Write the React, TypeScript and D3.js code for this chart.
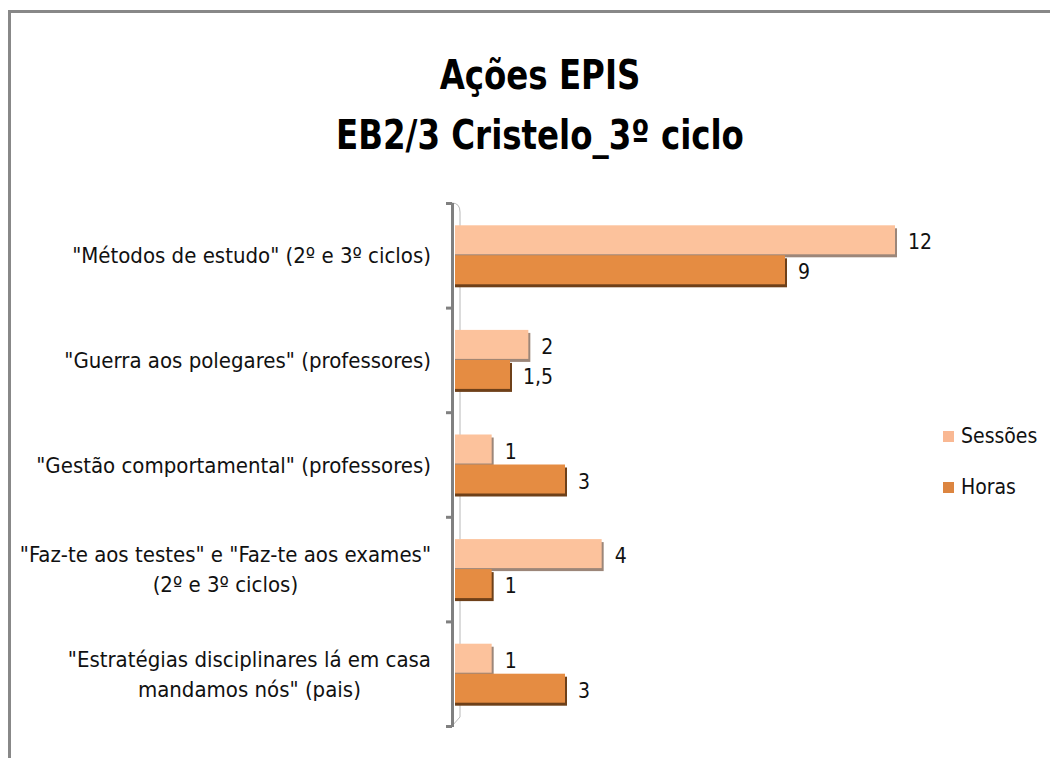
import { useEffect, useRef } from "react";
import * as d3 from "d3";

const categories: string[][] = [
  ['"Métodos de estudo" (2º e 3º ciclos)'],
  ['"Guerra aos polegares" (professores)'],
  ['"Gestão comportamental" (professores)'],
  ['"Faz-te aos testes" e "Faz-te aos exames"', "(2º e 3º ciclos)"],
  ['"Estratégias disciplinares lá em casa', 'mandamos nós" (pais)'],
];
const sessoes = [12, 2, 1, 4, 1];
const horas = [9, 1.5, 3, 1, 3];
const seriesNames = ["Sessões", "Horas"];
const titleLines = ["Ações EPIS", "EB2/3 Cristelo_3º ciclo"];

const FONT = '"Liberation Sans Narrow", "DejaVu Sans Condensed", "Open Sans", sans-serif';

const App = () => {
  const chartRef = useRef<SVGSVGElement | null>(null);

  useEffect(() => {
    if (!chartRef.current) return;
    document.body.style.margin = "0";
    const svg = d3.select(chartRef.current);
    svg.selectAll("*").remove();

    const width = 1050,
      height = 758;
    const plot = { left: 455, top: 203, bottom: 726 };

    svg.attr("width", width).attr("height", height).style("display", "block");
    svg.append("rect").attr("width", width).attr("height", height).attr("fill", "#fff");

    // outer chart border (runs off the right / bottom)
    svg
      .append("path")
      .attr("d", `M9.5,${height + 5} L9.5,11.5 L${width + 5},11.5`)
      .attr("fill", "none")
      .attr("stroke", "#888")
      .attr("stroke-width", 3);

    // title (squeezed a bit to look like the narrow original font)
    svg
      .append("g")
      .selectAll("text")
      .data(titleLines)
      .enter()
      .append("text")
      .attr("transform", (_, i) => `translate(540,${89 + i * 60}) scale(0.88,1)`)
      .attr("text-anchor", "middle")
      .attr("font-family", FONT)
      .attr("font-weight", "bold")
      .attr("font-size", 41)
      .attr("fill", "#000")
      .text((d) => d);

    const y = d3
      .scaleBand<number>()
      .domain(d3.range(categories.length))
      .range([plot.top, plot.bottom]);
    const x = d3.scaleLinear().domain([0, 12]).range([plot.left, 895]);
    const inner = d3
      .scaleBand<number>()
      .domain([0, 1])
      .range([0, 60])
      .paddingInner(0);

    // 3D wall / axis
    const axis = svg.append("g");
    axis
      .append("path")
      .attr("d", `M452,${plot.top} Q460,${plot.top} 460,${plot.top + 9} L460,${plot.bottom - 9} L452,${plot.bottom}`)
      .attr("fill", "none")
      .attr("stroke", "#b8b8b8")
      .attr("stroke-width", 1);
    axis
      .append("line")
      .attr("x1", 452.5)
      .attr("x2", 452.5)
      .attr("y1", plot.top)
      .attr("y2", plot.bottom + 1)
      .attr("stroke", "#808080")
      .attr("stroke-width", 3);
    const ticks = d3.range(categories.length + 1).map((i) =>
      i === categories.length ? plot.bottom : y(i)!
    );
    axis
      .selectAll("line.tick")
      .data(ticks)
      .enter()
      .append("line")
      .attr("class", "tick")
      .attr("x1", 446)
      .attr("x2", 452)
      .attr("y1", (d) => d + 0.5)
      .attr("y2", (d) => d + 0.5)
      .attr("stroke", "#808080")
      .attr("stroke-width", 3);

    const colors = ["#FCC29C", "#E58C42"];
    const shadows = ["#9c8679", "#6e4019"];
    const legendColors = ["#F9B893", "#DC8540"];
    const barH = 30;

    [sessoes, horas].forEach((values, s) => {
      const g = svg.append("g");
      const yPos = (i: number) => y(i)! + y.bandwidth() / 2 - 30 + inner(s)!;
      g.selectAll("rect.shadow")
        .data(values)
        .enter()
        .append("rect")
        .attr("class", "shadow")
        .attr("x", x(0))
        .attr("y", (_, i) => yPos(i) + 3)
        .attr("width", (d) => x(d) - x(0) + 2)
        .attr("height", barH - 1)
        .attr("fill", shadows[s]);
      g.selectAll("rect.bar")
        .data(values)
        .enter()
        .append("rect")
        .attr("class", "bar")
        .attr("x", x(0))
        .attr("y", (_, i) => yPos(i))
        .attr("width", (d) => x(d) - x(0))
        .attr("height", barH - 1)
        .attr("fill", colors[s]);
      g.selectAll("text")
        .data(values)
        .enter()
        .append("text")
        .attr("x", (d) => x(d) + 13)
        .attr("y", (_, i) => yPos(i) + barH / 2 + 9)
        .attr("font-family", FONT)
        .attr("font-size", 21)
        .attr("fill", "#111")
        .text((d) => String(d).replace(".", ","));
    });

    // category labels: block right-aligned, lines centered within block
    const labelRight = 431;
    const lineH = 30;
    categories.forEach((lines, i) => {
      const g = svg.append("g");
      const cy = y(i)! + y.bandwidth() / 2;
      const texts = g
        .selectAll("text")
        .data(lines)
        .enter()
        .append("text")
        .attr("text-anchor", "middle")
        .attr("y", (_, j) => cy + 8 + (j - (lines.length - 1) / 2) * lineH)
        .attr("font-family", FONT)
        .attr("font-size", 22)
        .attr("fill", "#111")
        .text((d) => d);
      let maxW = 0;
      texts.each(function () {
        maxW = Math.max(maxW, (this as SVGTextElement).getComputedTextLength());
      });
      texts.attr("x", labelRight - maxW / 2);
    });

    // legend
    const legend = svg
      .append("g")
      .selectAll("g")
      .data(seriesNames)
      .enter()
      .append("g")
      .attr("transform", (_, i) => `translate(943,${431 + i * 51})`);
    legend
      .append("rect")
      .attr("width", 11)
      .attr("height", 11)
      .attr("fill", (_, i) => legendColors[i]);
    legend
      .append("text")
      .attr("x", 18)
      .attr("y", 12)
      .attr("font-family", FONT)
      .attr("font-size", 21)
      .attr("fill", "#111")
      .text((d) => d);
  }, []);

  return <svg ref={chartRef}></svg>;
};

export default App;
